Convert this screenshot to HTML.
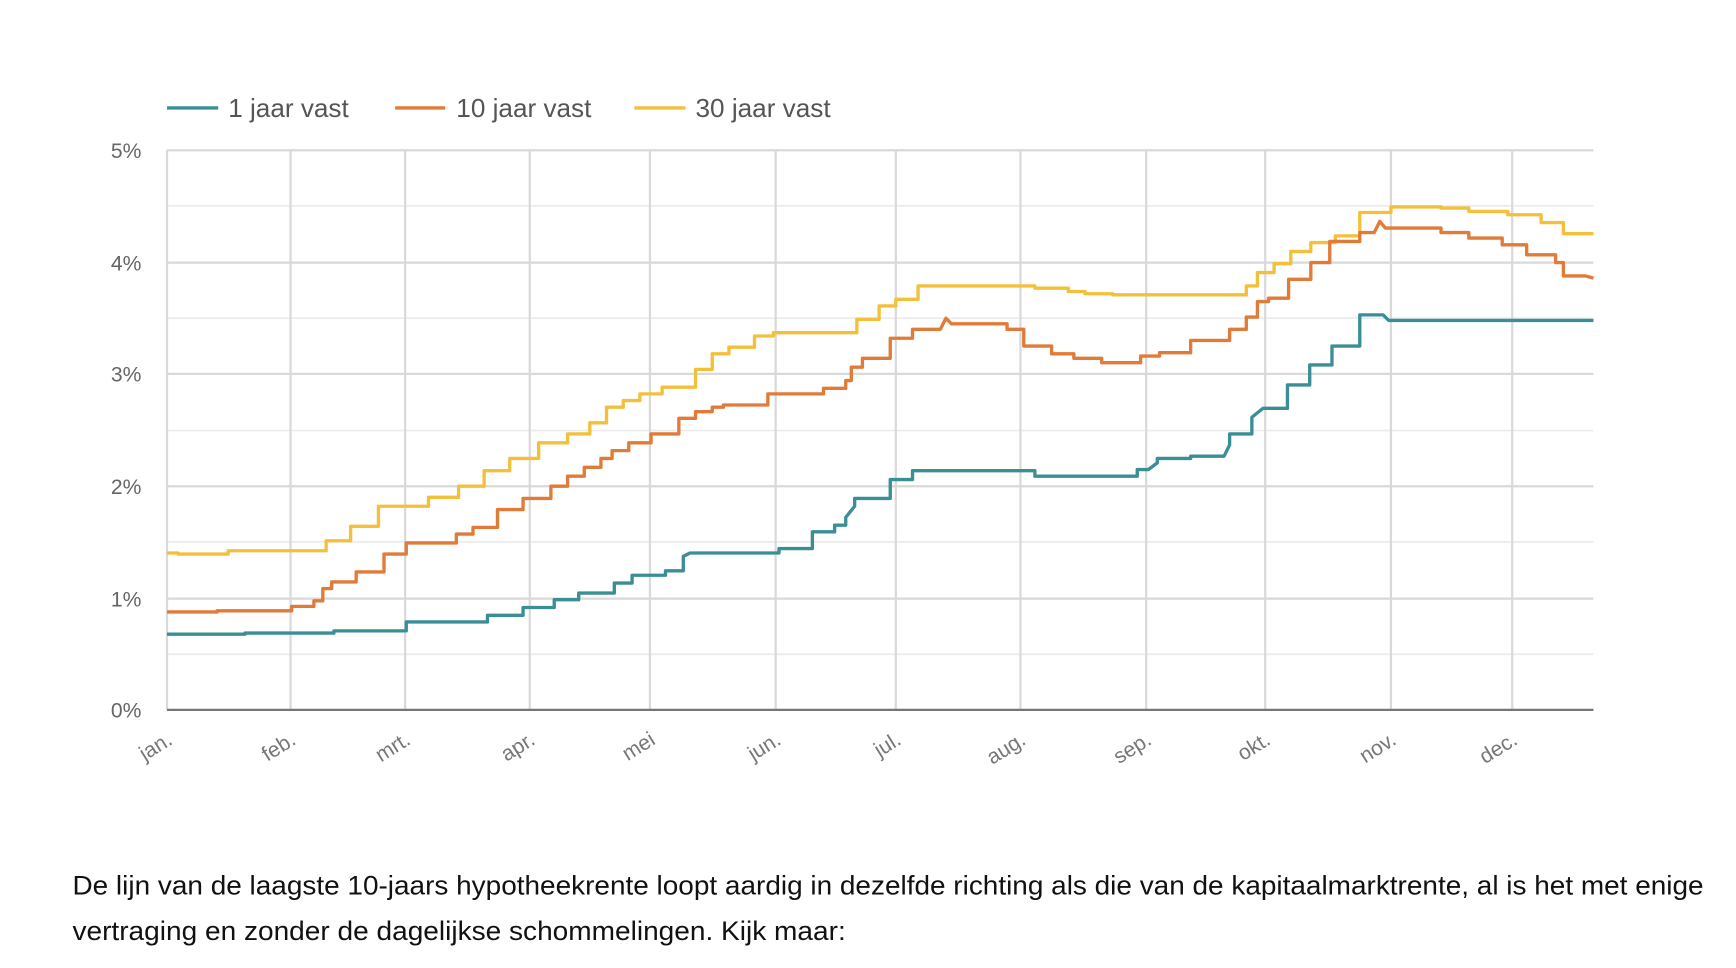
<!DOCTYPE html>
<html><head><meta charset="utf-8"><style>
html,body{margin:0;padding:0;background:#fff;}
svg{display:block;}
</style></head><body>
<svg width="1736" height="968" viewBox="0 0 1560 870" xmlns="http://www.w3.org/2000/svg" font-family="Liberation Sans, sans-serif">
<rect width="1560" height="870" fill="#fff"/>
<g stroke="#ebebeb" stroke-width="1.5">
<line x1="150" x2="1432" y1="185" y2="185"/><line x1="150" x2="1432" y1="286" y2="286"/>
<line x1="150" x2="1432" y1="387" y2="387"/><line x1="150" x2="1432" y1="487" y2="487"/>
<line x1="150" x2="1432" y1="588" y2="588"/>
</g>
<g stroke="#d9d9d9" stroke-width="2">
<line x1="150" x2="1432" y1="135" y2="135"/><line x1="150" x2="1432" y1="236" y2="236"/>
<line x1="150" x2="1432" y1="336" y2="336"/><line x1="150" x2="1432" y1="437" y2="437"/>
<line x1="150" x2="1432" y1="538" y2="538"/>
<line x1="150" x2="150" y1="135" y2="638"/><line x1="261" x2="261" y1="135" y2="638"/>
<line x1="364" x2="364" y1="135" y2="638"/><line x1="476" x2="476" y1="135" y2="638"/>
<line x1="584" x2="584" y1="135" y2="638"/><line x1="697" x2="697" y1="135" y2="638"/>
<line x1="805" x2="805" y1="135" y2="638"/><line x1="917" x2="917" y1="135" y2="638"/>
<line x1="1030" x2="1030" y1="135" y2="638"/><line x1="1137" x2="1137" y1="135" y2="638"/>
<line x1="1250" x2="1250" y1="135" y2="638"/><line x1="1359" x2="1359" y1="135" y2="638"/>
</g>
<line x1="150" x2="1432" y1="638" y2="638" stroke="#777" stroke-width="2"/>
<g fill="#666" font-size="19" text-anchor="end">
<text x="127" y="142">5%</text><text x="127" y="243">4%</text><text x="127" y="343">3%</text>
<text x="127" y="444">2%</text><text x="127" y="545">1%</text><text x="127" y="645">0%</text>
</g>
<g fill="#777" font-size="19" text-anchor="end">
<text transform="translate(156,668) rotate(-32)">jan.</text>
<text transform="translate(267,668) rotate(-32)">feb.</text>
<text transform="translate(370,668) rotate(-32)">mrt.</text>
<text transform="translate(482,668) rotate(-32)">apr.</text>
<text transform="translate(590,668) rotate(-32)">mei</text>
<text transform="translate(703,668) rotate(-32)">jun.</text>
<text transform="translate(811,668) rotate(-32)">jul.</text>
<text transform="translate(923,668) rotate(-32)">aug.</text>
<text transform="translate(1036,668) rotate(-32)">sep.</text>
<text transform="translate(1143,668) rotate(-32)">okt.</text>
<text transform="translate(1256,668) rotate(-32)">nov.</text>
<text transform="translate(1365,668) rotate(-32)">dec.</text>
</g>
<g fill="none" stroke-width="3" stroke-linejoin="round">
<path stroke="#f2c03b" d="M150,497 H160 V498 H205 V495 H293 V486 H315 V473 H340 V455 H385 V447 H412 V437 H435 V423 H458 V412 H484 V398 H510 V390 H530 V380 H545 V366 H560 V360 H575 V354 H595 V348 H625 V332 H640 V318 H655 V312 H678 V302 H695 V299 H770 V287 H790 V275 H805 V269 H825 V257 H930 V259 H960 V262 H975 V264 H1000 V265 H1120 V257 H1130 V245 H1145 V237 H1160 V226 H1178 V218 H1200 V212 H1222 V191 H1250 V186 H1295 V187 H1320 V190 H1355 V193 H1385 V200 H1405 V210 H1432"/>
<path stroke="#e07b39" d="M150,550 H195 V549 H262 V545 H282 V540 H290 V529 H298 V523 H320 V514 H345 V498 H365 V488 H410 V480 H425 V474 H447 V458 H470 V448 H495 V437 H510 V428 H525 V420 H540 V412 H550 V405 H565 V398 H585 V390 H610 V376 H625 V370 H640 V366 H650 V364 H690 V354 H740 V349 H760 V342 H765 V330 H775 V322 H800 V304 H820 V296 H845 L850,286 L855,291 H905 V296 H920 V311 H945 V318 H965 V322 H990 V326 H1025 V320 H1042 V317 H1070 V306 H1105 V296 H1120 V285 H1130 V271 H1140 V268 H1158 V251 H1178 V236 H1195 V217 H1222 V209 H1235 L1240,199 L1245,205 H1295 V209 H1320 V214 H1350 V220 H1372 V229 H1398 V236 H1405 V248 H1425 L1432,250"/>
<path stroke="#3a8f96" d="M150,570 H220 V569 H300 V567 H365 V559 H438 V553 H470 V546 H498 V539 H520 V533 H552 V524 H568 V517 H598 V513 H614 V500 L620,497 H700 V493 H730 V478 H750 V472 H760 V465 L768,455 V448 H780 L782,448 H800 V431 H820 V423 H930 V428 H1022 V422 H1032 L1040,416 V412 H1070 V410 H1100 L1105,400 V390 H1125 V375 L1135,367 H1157 V346 H1177 V328 H1197 V311 H1222 V283 H1243 L1248,288 H1432"/>
<line x1="150" x2="196" y1="97" y2="97" stroke="#3a8f96"/>
<line x1="355" x2="400" y1="97" y2="97" stroke="#e07b39"/>
<line x1="570" x2="616" y1="97" y2="97" stroke="#f2c03b"/>
</g>
<g fill="#555" font-size="23.5">
<text x="205" y="105">1 jaar vast</text>
<text x="410" y="105">10 jaar vast</text>
<text x="625" y="105">30 jaar vast</text>
</g>
<g fill="#111" font-size="24.5">
<text x="65" y="804" textLength="1466" lengthAdjust="spacingAndGlyphs">De lijn van de laagste 10-jaars hypotheekrente loopt aardig in dezelfde richting als die van de kapitaalmarktrente, al is het met enige</text>
<text x="65" y="845" textLength="695" lengthAdjust="spacingAndGlyphs">vertraging en zonder de dagelijkse schommelingen. Kijk maar:</text>
</g>
</svg>
</body></html>
